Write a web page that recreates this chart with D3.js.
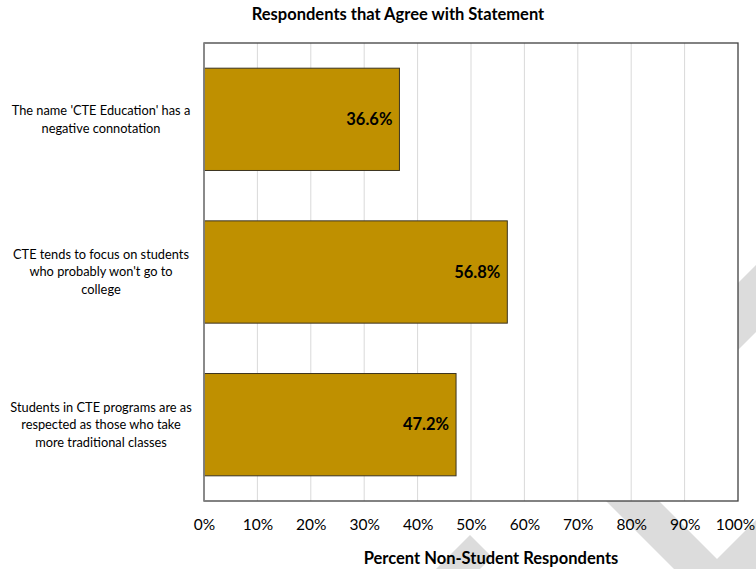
<!DOCTYPE html>
<html>
<head>
<meta charset="utf-8">
<script src="https://cdn.jsdelivr.net/npm/d3@7"></script>
<style>
  body { margin: 0; background: #fff; }
  text { font-family: Lato, "Open Sans", sans-serif; fill: #000; }
</style>
</head>
<body>
<div id="chart"></div>
<script>
// Chart data
var categories = ["name", "focus", "respect"];
var categoryLines = [
    ["The name 'CTE Education' has a", "negative connotation"],
    ["CTE tends to focus on students", "who probably won't go to", "college"],
    ["Students in CTE programs are as", "respected as those who take", "more traditional classes"]
];
var values = [36.6, 56.8, 47.2];
var xTicks = [0, 10, 20, 30, 40, 50, 60, 70, 80, 90, 100];

// Chart params
var svgWidth = 756;
var svgHeight = 569;

var margin = {
    top: 43,
    right: 18,
    bottom: 68,
    left: 204
};

var width = svgWidth - margin.left - margin.right;
var height = svgHeight - margin.top - margin.bottom;

var svg = d3.select("#chart")
    .append("svg")
    .attr("width", svgWidth)
    .attr("height", svgHeight);

// background watermark stripes
var stripes = [
    [[756, 265], [756, 332], [680, 408], [680, 341]],
    [[585, 480], [638, 480], [727, 569], [674, 569]],
    [[756, 520], [756, 569], [707, 569]],
    [[436, 569], [470, 535], [492, 557], [480, 569]]
];
svg.append("g")
    .selectAll("polygon")
    .data(stripes)
    .enter()
    .append("polygon")
    .attr("points", d => d.map(p => p.join(",")).join(" "))
    .attr("fill", "#dcdcdc");

var chartGroup = svg.append("g")
    .attr("transform", `translate(${margin.left}, ${margin.top})`);

var x = d3.scaleLinear()
    .domain([0, 100])
    .range([0, width]);

var y = d3.scaleBand()
    .domain(categories)
    .range([0, height])
    .paddingInner(0.33)
    .paddingOuter(0.165);

// plot background
chartGroup.append("rect")
    .attr("width", width)
    .attr("height", height)
    .attr("fill", "#fff");

// gridlines
chartGroup.append("g")
    .selectAll("line")
    .data(xTicks.slice(1, -1))
    .enter()
    .append("line")
    .attr("x1", d => x(d))
    .attr("x2", d => x(d))
    .attr("y1", 0)
    .attr("y2", height)
    .attr("stroke", "#d9d9d9")
    .attr("stroke-width", 1);

// bars
chartGroup.selectAll(".bar")
    .data(values)
    .enter()
    .append("rect")
    .attr("class", "bar")
    .attr("x", x(0))
    .attr("y", (d, i) => y(categories[i]))
    .attr("width", d => x(d) - x(0))
    .attr("height", y.bandwidth())
    .attr("fill", "#bf9000")
    .attr("stroke", "#3b3320")
    .attr("stroke-width", 1);

// bar labels
chartGroup.selectAll(".barLabel")
    .data(values)
    .enter()
    .append("text")
    .attr("class", "barLabel")
    .attr("x", d => x(d) - 7)
    .attr("y", (d, i) => y(categories[i]) + y.bandwidth() / 2)
    .attr("dy", "0.35em")
    .attr("text-anchor", "end")
    .attr("font-size", "16.5px")
    .attr("font-weight", "bold")
    .text(d => d.toFixed(1) + "%");

// plot border
chartGroup.append("rect")
    .attr("width", width)
    .attr("height", height)
    .attr("fill", "none")
    .attr("stroke", "#404040")
    .attr("stroke-width", 1.3);
chartGroup.append("line")
    .attr("x1", 0).attr("x2", 0)
    .attr("y1", 0).attr("y2", height)
    .attr("stroke", "#8c8c8c")
    .attr("stroke-width", 1.5);

// x axis tick labels
var bottomAxis = d3.axisBottom(x)
    .tickValues(xTicks)
    .tickSize(0)
    .tickPadding(18)
    .tickFormat(d => d + "%");

var xAxisGroup = chartGroup.append("g")
    .attr("transform", `translate(0, ${height})`)
    .call(bottomAxis);
xAxisGroup.select(".domain").remove();
xAxisGroup.selectAll("text")
    .attr("font-family", "Lato, sans-serif")
    .attr("font-size", "15.5px")
    .attr("fill", "#000")
    .attr("dx", d => d === 100 ? -3 : 0);

// category labels
var catGroups = chartGroup.selectAll(".catLabel")
    .data(categories)
    .enter()
    .append("text")
    .attr("class", "catLabel")
    .attr("text-anchor", "middle")
    .attr("font-size", "12.8px")
    .attr("transform", (d, i) => {
        var n = categoryLines[i].length;
        var cy = y(d) + y.bandwidth() / 2 - (n - 1) * 17.5 / 2;
        return `translate(${-103}, ${cy})`;
    });

catGroups.selectAll("tspan")
    .data((d, i) => categoryLines[i])
    .enter()
    .append("tspan")
    .attr("x", 0)
    .attr("y", (d, j) => j * 17.5)
    .attr("dy", "0.35em")
    .text(d => d);

// title
svg.append("text")
    .attr("x", 398)
    .attr("y", 20)
    .attr("text-anchor", "middle")
    .attr("font-size", "16.5px")
    .attr("font-weight", "bold")
    .text("Respondents that Agree with Statement");

// x axis label
svg.append("text")
    .attr("x", 491)
    .attr("y", 564)
    .attr("text-anchor", "middle")
    .attr("font-size", "16.5px")
    .attr("font-weight", "bold")
    .text("Percent Non-Student Respondents");
</script>
</body>
</html>
